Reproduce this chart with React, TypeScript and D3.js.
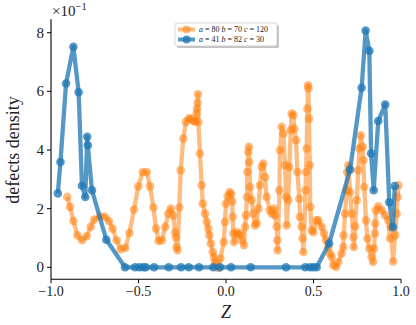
import React from "react";
import * as d3 from "d3";

// orange series: a = 80 b = 70 c = 120
const orangeZ = [
  -0.907, -0.891, -0.872, -0.849, -0.823, -0.796, -0.773, -0.753, -0.72, -0.691,
  -0.669, -0.648, -0.625, -0.602, -0.575, -0.552, -0.526, -0.501, -0.476, -0.453,
  -0.434, -0.415, -0.4, -0.385, -0.366, -0.347, -0.33, -0.316, -0.301, -0.291,
  -0.286, -0.282, -0.277, -0.267, -0.259, -0.244, -0.229, -0.213, -0.2, -0.187,
  -0.175, -0.168, -0.166, -0.162, -0.16, -0.158, -0.149, -0.139, -0.133, -0.12,
  -0.11, -0.101, -0.095, -0.087, -0.076, -0.069, -0.063, -0.057, -0.044, -0.032,
  -0.013, -0.006, 0.0, 0.01, 0.02, 0.03, 0.036, 0.038, 0.042, 0.046,
  0.061, 0.07, 0.084, 0.09, 0.103, 0.109, 0.114, 0.12, 0.122, 0.127,
  0.131, 0.133, 0.137, 0.147, 0.156, 0.166, 0.175, 0.185, 0.194, 0.204,
  0.213, 0.223, 0.232, 0.251, 0.262, 0.274, 0.28, 0.29, 0.293, 0.295,
  0.305, 0.309, 0.318, 0.328, 0.337, 0.343, 0.347, 0.356, 0.362, 0.37,
  0.375, 0.385, 0.39, 0.4, 0.408, 0.419, 0.423, 0.432, 0.438, 0.442,
  0.455, 0.457, 0.461, 0.465, 0.469, 0.471, 0.474, 0.479, 0.481, 0.49,
  0.499, 0.518, 0.527, 0.547, 0.56, 0.571, 0.585, 0.594, 0.604, 0.613,
  0.629, 0.642, 0.661, 0.67, 0.672, 0.68, 0.69, 0.692, 0.699, 0.709,
  0.718, 0.728, 0.73, 0.738, 0.747, 0.756, 0.762, 0.77, 0.781, 0.785,
  0.79, 0.8, 0.808, 0.819, 0.832, 0.84, 0.846, 0.851, 0.853, 0.857,
  0.87, 0.89, 0.909, 0.928, 0.937, 0.941, 0.955, 0.966, 0.975, 0.981,
  0.985,
];
const orangeVal = [
  2.4, 2.06, 1.58, 1.09, 0.92, 1.06, 1.38, 1.63, 1.74, 1.72,
  1.58, 1.32, 0.92, 0.62, 0.66, 1.17, 1.97, 2.76, 3.25, 3.25,
  2.76, 2.04, 1.32, 0.9, 0.92, 1.38, 1.83, 2.0, 1.77, 1.2,
  1.03, 0.69, 0.58, 2.04, 3.31, 4.39, 4.96, 5.07, 5.07, 4.99,
  4.96, 5.24, 5.41, 5.61, 5.9, 4.96, 3.88, 2.8, 2.17, 1.83,
  1.55, 1.32, 1.09, 0.81, 0.52, 0.35, 0.18, 0.07, -0.02, 0.3,
  0.86, 1.55, 2.17, 2.42, 2.57, 2.5, 2.25, 1.72, 1.15, 0.86,
  1.2, 1.1, 1.15, 0.92, 0.75, 1.38, 1.77, 2.4, 3.25, 3.93,
  4.11, 3.59, 2.74, 2.29, 1.83, 1.43, 1.5, 2.0, 2.8, 3.42,
  3.54, 3.08, 2.4, 1.94, 1.83, 2.0, 1.77, 1.38, 0.92, 0.58,
  2.63, 3.99, 4.79, 4.56, 3.48, 2.4, 1.43, 2.29, 3.42, 4.68,
  5.24, 5.19, 4.73, 4.33, 3.25, 2.34, 1.72, 1.38, 0.98, 0.52,
  2.63, 3.25, 4.05, 5.41, 6.21, 6.1, 5.07, 3.48, 2.06, 1.26,
  1.2, 1.6, 1.6, 1.38, 1.15, 0.92, 0.69, 0.47, 0.35, 0.07,
  0.01, 0.18, 0.47, 0.69, 1.09, 1.83, 2.63, 3.25, 3.48, 2.57,
  1.83, 1.03, 0.69, 1.4, 2.29, 3.31, 4.05, 4.5, 4.11, 3.65,
  2.74, 1.6, 0.98, 0.64, 0.35, 0.18, 0.64, 1.15, 1.49, 1.94,
  2.08, 1.94, 1.77, 1.6, 0.98, 1.38, 0.2, 1.09, 1.83, 2.4,
  2.8,
];

// blue series: a = 41 b = 82 c = 30
const blueZ = [
  -0.961, -0.946, -0.914, -0.872, -0.842, -0.823, -0.804, -0.793, -0.79, -0.766,
  -0.684, -0.577, -0.52, -0.495, -0.472, -0.459, -0.411, -0.327, -0.257, -0.213,
  -0.154, -0.072, -0.034, 0.029, 0.141, 0.343, 0.453, 0.48, 0.499, 0.518,
  0.589, 0.709, 0.775, 0.798, 0.819, 0.829, 0.844, 0.87, 0.91, 0.933,
  0.954, 0.964,
];
const blueVal = [
  2.52, 3.59, 6.27, 7.52, 5.97, 2.78, 2.4, 4.45, 4.16, 2.63,
  0.94, 0, 0, 0, 0, 0, 0, 0, 0, 0,
  0, 0, 0, 0, 0, 0, 0, 0, 0, 0,
  0.81, 3.33, 6.12, 8.07, 7.38, 3.88, 2.63, 4.99, 5.55, 2.22,
  1.37, 2.77,
];

const xTicks = [-1, -0.5, 0, 0.5, 1];
const xTickLabels = ["\u22121.0", "\u22120.5", "0.0", "0.5", "1.0"];
const yTicks = [0, 2, 4, 6, 8];

const legendItems = [
  { a: "80", b: "70", c: "120" },
  { a: "41", b: "82", c: "30" },
];

const FONT = "'Liberation Serif', 'DejaVu Serif', serif";

const App = () => {
  const x = d3.scaleLinear().domain([-1, 1]).range([51, 401]);
  const y = d3.scaleLinear().domain([0, 8]).range([267.3, 32.7]);
  const yMin = -0.41;
  const yMax = 8.46;

  const orange = orangeZ.map((z, i) => [z, orangeVal[i]] as [number, number]);
  const blue = blueZ.map((z, i) => [z, blueVal[i]] as [number, number]);

  const line = d3
    .line<[number, number]>()
    .x((d) => x(d[0]))
    .y((d) => y(d[1]));

  const series = [
    { data: orange, color: "#ff7f0e", alpha: 0.52 },
    { data: blue, color: "#1f77b4", alpha: 0.76 },
  ];

  const axisY = y(yMin);

  return (
    <svg width={416} height={325} style={{ display: "block", position: "absolute", left: 0, top: 0 }}>
      <rect width={416} height={325} fill="#fff" />
      {series.map((s, i) => (
        <g key={i}>
          <path
            d={line(s.data) || ""}
            fill="none"
            stroke={s.color}
            strokeOpacity={s.alpha}
            strokeWidth={4.3}
            strokeLinejoin="round"
          />
          {s.data.map((d, j) => (
            <circle key={j} cx={x(d[0])} cy={y(d[1])} r={4.3} fill={s.color} fillOpacity={s.alpha} />
          ))}
        </g>
      ))}

      {/* spines */}
      <line x1={x(-1)} x2={x(-1)} y1={y(yMax)} y2={axisY} stroke="#000" strokeWidth={1.1} />
      <line x1={x(-1)} x2={x(1)} y1={axisY} y2={axisY} stroke="#000" strokeWidth={1.1} />

      {/* x ticks */}
      {xTicks.map((t, i) => (
        <g key={t} transform={`translate(${x(t)},${axisY})`}>
          <line y1={0} y2={4} stroke="#000" strokeWidth={1} />
          <text y={17} textAnchor="middle" fontFamily={FONT} fontSize={14} fill="#222">
            {xTickLabels[i]}
          </text>
        </g>
      ))}

      {/* y ticks */}
      {yTicks.map((t) => (
        <g key={t} transform={`translate(${x(-1)},${y(t)})`}>
          <line x1={-4} x2={0} stroke="#000" strokeWidth={1} />
          <text x={-7} dy="0.33em" textAnchor="end" fontFamily={FONT} fontSize={15} fill="#222">
            {t}
          </text>
        </g>
      ))}

      {/* offset text */}
      <text x={52} y={16} fontFamily={FONT} fontSize={15} fill="#222">
        ×10
        <tspan dy={-6} fontSize={10.5}>
          −1
        </tspan>
      </text>

      {/* axis labels */}
      <text x={226} y={318} textAnchor="middle" fontFamily={FONT} fontSize={18} fontStyle="italic" fill="#222">
        Z
      </text>
      <text
        transform="translate(19,150) rotate(-90)"
        textAnchor="middle"
        fontFamily={FONT}
        fontSize={18}
        fill="#222"
      >
        defects density
      </text>

      {/* legend */}
      <g>
        <rect x={177} y={25} width={102} height={23} rx={2} fill="#888" opacity={0.5} />
        <rect x={175} y={23} width={102} height={23} rx={2} fill="#fff" stroke="#ccc" strokeWidth={0.8} />
        {legendItems.map((it, i) => {
          const cy = 29.5 + i * 10;
          const s = series[i];
          return (
            <g key={i}>
              <line x1={178} x2={195} y1={cy} y2={cy} stroke={s.color} strokeOpacity={s.alpha} strokeWidth={4} />
              <circle cx={186.5} cy={cy} r={4} fill={s.color} fillOpacity={s.alpha} />
              <text x={199} y={cy} dy="0.33em" fontFamily={FONT} fontSize={8} fill="#222">
                <tspan fontStyle="italic">a</tspan> = {it.a} <tspan fontStyle="italic">b</tspan> = {it.b}{" "}
                <tspan fontStyle="italic">c</tspan> = {it.c}
              </text>
            </g>
          );
        })}
      </g>
    </svg>
  );
};

export default App;
